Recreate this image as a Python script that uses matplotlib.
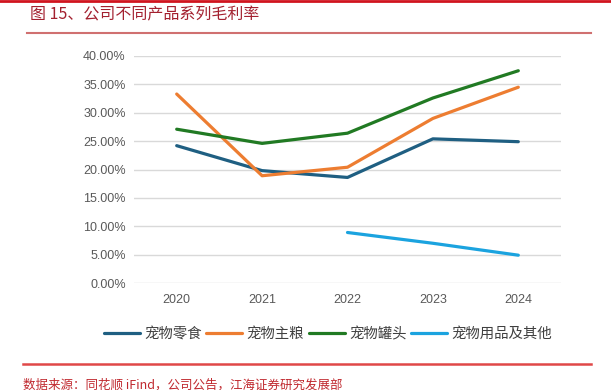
import matplotlib.pyplot as plt
from matplotlib.lines import Line2D
from matplotlib.ticker import FuncFormatter

years = ['2020', '2021', '2022', '2023', '2024']
snacks = [24.2, 19.8, 18.6, 25.4, 24.9]
staple = [33.3, 18.9, 20.4, 29.0, 34.5]
canned = [27.1, 24.6, 26.4, 32.6, 37.4]
supplies_years = ['2022', '2023', '2024']
supplies = [8.9, 7.0, 4.9]

series_names = ['宠物零食', '宠物主粮', '宠物罐头', '宠物用品及其他']
colors = ['#1F5F82', '#ED7D31', '#217A23', '#1BA3DF']

cjk = ['Noto Sans CJK SC', 'DejaVu Sans']
red = '#A3202F'

fig = plt.figure(figsize=(6.11, 3.9), dpi=100)

# top red bar, title rule, footer rule
fig.add_artist(Line2D([0, 1], [1 - 1 / 390, 1 - 1 / 390], color='#D0141E', lw=2))
fig.add_artist(Line2D([27 / 611, 591 / 611], [1 - 33 / 390] * 2, color='#D07070', lw=1.5))
fig.add_artist(Line2D([23 / 611, 591 / 611], [1 - 364 / 390] * 2, color='#E04848', lw=1.8))
fig.text(30 / 611, 1 - 15 / 390, '图 15、公司不同产品系列毛利率', family=cjk,
         fontsize=11.5, color=red, va='center', ha='left')
fig.text(23 / 611, 1 - 385 / 390, '数据来源：同花顺 iFind，公司公告，江海证券研究发展部', family=cjk,
         fontsize=9, color='#C0282E', va='center', ha='left', style='italic')

ax = fig.add_axes([134 / 611, 107 / 390, 427 / 611, 227 / 390])
x = list(range(len(years)))
xs = [years.index(y) for y in supplies_years]
for vals, xx, c, name in zip([snacks, staple, canned, supplies], [x, x, x, xs], colors, series_names):
    ax.plot(xx, vals, color=c, lw=2.3, label=name, clip_on=False, solid_capstyle='round')

ax.set_xlim(-0.5, 4.5)
ax.set_ylim(0, 40)
ax.set_yticks(range(0, 41, 5))
ax.yaxis.set_major_formatter(FuncFormatter(lambda v, p: f'{v:.2f}%'))
ax.set_xticks(x)
ax.set_xticklabels(years)
ax.grid(axis='y', color='#D9D9D9', lw=1)
ax.set_axisbelow(True)
for s in ax.spines.values():
    s.set_visible(False)
ax.tick_params(length=0, labelsize=9, labelcolor='#595959', pad=6)
for lbl in ax.get_xticklabels() + ax.get_yticklabels():
    lbl.set_family(['Liberation Sans', 'DejaVu Sans'])
ax.tick_params(axis='x', pad=8)

leg = fig.legend(*ax.get_legend_handles_labels(), loc='center left',
                 bbox_to_anchor=(104 / 611, 1 - 334 / 390), ncol=4, frameon=False,
                 handlelength=2.5, columnspacing=0.3, handletextpad=0.3,
                 borderpad=0, borderaxespad=0, prop={'family': cjk, 'size': 10.4})
for t in leg.get_texts():
    t.set_color('#404040')

fig.savefig('out.png', dpi=100)
